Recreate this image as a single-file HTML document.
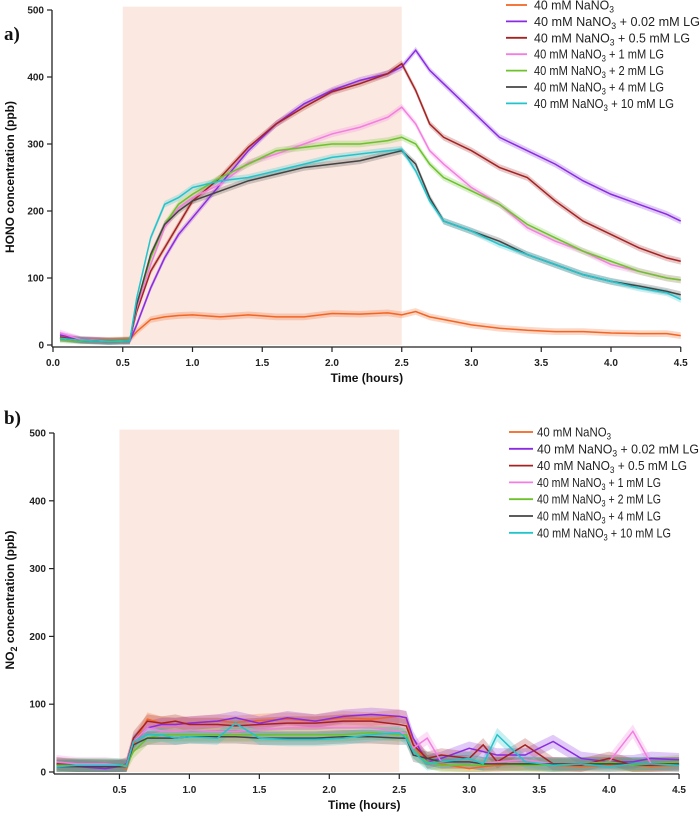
<!DOCTYPE html>
<html><head><meta charset="utf-8">
<style>
html,body{margin:0;padding:0;background:#fff;}
svg{display:block;font-family:"Liberation Sans",Arial,sans-serif;}
.tk{font-size:10px;font-weight:bold;fill:#222;}
.ttl{font-size:12px;font-weight:bold;fill:#111;}
.lg{font-size:13px;fill:#222;}
</style></head>
<body>
<svg id="chart" width="700" height="816" viewBox="0 0 700 816"></svg>
<script>
const colors=["#f26522","#8a2be2","#a52222","#f37ee0","#6cc22a","#444444","#22c4cc"];
const labelsSuffix=[""," + 0.02 mM LG"," + 0.5 mM LG"," + 1 mM LG"," + 2 mM LG"," + 4 mM LG"," + 10 mM LG"];
const seriesNames=["nano3","lg-0-02","lg-0-5","lg-1","lg-2","lg-4","lg-10"];
const xTicksA=["0.0","0.5","1.0","1.5","2.0","2.5","3.0","3.5","4.0","4.5"];
const xTicksB=["0.5","1.0","1.5","2.0","2.5","3.0","3.5","4.0","4.5"];
const yTicks=[0,100,200,300,400,500];
const timesA=[0.05,0.2,0.4,0.55,0.6,0.7,0.8,0.9,1.0,1.2,1.4,1.6,1.8,2.0,2.2,2.4,2.5,2.6,2.7,2.8,3.0,3.2,3.4,3.6,3.8,4.0,4.2,4.4,4.5];
const hA0=[10,8,7,8,20,38,42,44,45,42,45,42,42,47,46,48,45,50,42,38,30,25,22,20,20,18,17,17,14];
const hA1=[15,8,6,6,30,85,130,165,190,240,290,330,360,380,395,405,415,440,410,390,350,310,290,270,245,225,210,195,185];
const hA2=[12,7,6,7,50,110,145,180,215,250,295,330,355,378,390,405,420,380,330,310,290,265,250,215,185,165,145,130,125];
const hA3=[18,8,6,6,55,120,175,205,220,240,272,285,300,315,325,340,355,330,290,270,235,210,175,155,140,120,110,100,97];
const hA4=[8,6,6,7,60,130,180,210,225,250,270,290,295,300,300,305,310,300,270,250,230,210,180,160,140,125,110,100,97];
const hA5=[10,7,5,6,60,135,180,200,215,230,245,255,265,270,275,285,290,270,220,185,170,155,135,120,105,95,88,80,75];
const hA6=[10,7,5,6,70,160,210,220,235,245,250,260,270,280,285,290,292,260,215,185,170,150,135,120,105,95,85,78,68];
const timesB=[0.05,0.2,0.4,0.5,0.55,0.6,0.7,0.8,0.9,1.0,1.2,1.33,1.5,1.7,1.9,2.1,2.3,2.5,2.55,2.6,2.7,2.8,3.0,3.1,3.2,3.4,3.6,3.8,4.0,4.17,4.3,4.5];
const nB0=[10,10,10,8,5,40,78,72,70,72,75,73,76,78,75,80,78,82,80,40,15,12,5,8,10,12,10,8,10,10,8,10];
const nB1=[12,8,5,8,12,45,65,70,70,72,75,80,72,80,75,82,85,82,80,50,15,20,35,30,25,25,45,20,15,15,20,18];
const nB2=[12,10,8,8,10,50,75,72,75,70,70,68,70,72,72,75,75,70,68,40,20,25,20,40,15,40,12,10,20,10,10,12];
const nB3=[15,12,12,10,10,45,65,60,60,62,60,60,62,65,65,65,65,60,55,35,50,15,15,12,15,18,12,12,15,60,12,12];
const nB4=[10,10,10,10,10,30,50,55,55,55,55,55,55,55,55,55,58,55,55,30,15,10,10,10,12,10,10,12,15,10,12,15];
const nB5=[8,8,8,8,8,40,50,50,50,52,52,52,50,50,50,52,52,50,50,25,20,15,15,12,12,12,12,12,12,12,12,12];
const nB6=[8,10,10,10,8,45,55,55,50,52,50,72,50,48,48,50,55,58,50,30,12,15,20,12,55,15,10,12,8,12,12,10];
const seriesA=[hA0,hA1,hA2,hA3,hA4,hA5,hA6];
const seriesB=[nB0,nB1,nB2,nB3,nB4,nB5,nB6];

const NS="http://www.w3.org/2000/svg";
const svg=document.getElementById("chart");
function mk(tag,attrs,parent,name,inter){const e=document.createElementNS(NS,tag);for(const k in attrs)e.setAttribute(k,attrs[k]);


(parent||svg).appendChild(e);return e;}

function panel(p){
  const g=mk("g",{},svg,p.name,false);
  const X=t=>p.x0+t*p.xs, Y=v=>p.y0-v*p.ys;
  mk("rect",{x:X(0.5),y:Y(505),width:X(2.5)-X(0.5),height:Y(0)-Y(505),fill:"#fbe9e1"},g,"light-on-period",false);
  // bands & lines
  p.series.forEach((s,i)=>{
    let up=p.times.map((t,j)=>X(t)+","+Y(s[j]+p.band)).join(" ");
    let dn=p.times.map((t,j)=>X(t)+","+Y(Math.max(0,s[j]-p.band))).reverse().join(" ");
    mk("polygon",{points:up+" "+dn,fill:colors[i],opacity:0.25},g,"band-"+seriesNames[i],false);
  });
  p.series.forEach((s,i)=>{
    mk("polyline",{points:p.times.map((t,j)=>X(t)+","+Y(s[j])).join(" "),fill:"none",stroke:colors[i],"stroke-width":1.5},g,"line-"+seriesNames[i],true);
  });
  mk("line",{x1:p.ax,y1:Y(500),x2:p.ax,y2:p.y0+2,stroke:"#222","stroke-width":1.3},g,"y-axis",false);
  mk("line",{x1:p.ax,y1:p.y0+2,x2:X(4.5),y2:p.y0+2,stroke:"#222","stroke-width":1.3},g,"x-axis",false);
  yTicks.forEach(v=>{
    mk("line",{x1:p.ax-5,y1:Y(v),x2:p.ax,y2:Y(v),stroke:"#222","stroke-width":1.2},g,"y-tick",false);
    const t=mk("text",{x:p.ax-8,y:Y(v)+3.5,"text-anchor":"end",class:"tk"},g,"y-tick-label",false);t.textContent=v;
  });
  p.xt.forEach(l=>{const v=parseFloat(l);
    mk("line",{x1:X(v),y1:p.y0+2,x2:X(v),y2:p.y0+7,stroke:"#222","stroke-width":1.2},g,"x-tick",false);
    const t=mk("text",{x:X(v),y:p.y0+21,"text-anchor":"middle",class:"tk"},g,"x-tick-label",false);t.textContent=l;
  });
  const xt=mk("text",{x:X(2.25),y:p.y0+37,"text-anchor":"middle",class:"ttl"},g,"x-axis-title",false);xt.textContent="Time (hours)";
  const yt=mk("text",{x:0,y:0,"text-anchor":"middle",class:"ttl",transform:`translate(14,${p.ylc}) rotate(-90)`},g,"y-axis-title",false);
  yt.innerHTML=p.ylab;
  const pl=mk("text",{x:4,y:p.ply,style:"font-family:'Liberation Serif',serif;font-weight:bold;font-size:19px",fill:"#111"},g,"panel-label",false);pl.textContent=p.pl;
  // legend
  colors.forEach((c,i)=>{
    const y=p.lgy+i*p.lgd;
    mk("line",{x1:p.lgx1,y1:y,x2:p.lgx2,y2:y,stroke:c,"stroke-width":1.8},g,"legend-swatch-"+seriesNames[i],false);
    const t=mk("text",{x:p.lgt,y:y+4.5,class:"lg",textLength:p.tl[i],lengthAdjust:"spacingAndGlyphs"},g,"legend-entry-"+seriesNames[i],true);
    t.innerHTML='40 mM NaNO<tspan dy="3" font-size="9">3</tspan><tspan dy="-3">'+labelsSuffix[i]+'</tspan>';
  });
}
const tlA=[80,166,156,130,130,130,140], tlB=[74,162,150,124,124,124,134];
panel({name:"panel-a-hono",series:seriesA,times:timesA,x0:53,xs:139.5,y0:345,ys:0.67,ax:52,band:5,xt:xTicksA,
  ylab:"HONO concentration (ppb)",ylc:177,pl:"a)",ply:40,lgx1:506,lgx2:527,lgt:534,lgy:5,lgd:16.4,tl:tlA});
panel({name:"panel-b-no2",series:seriesB,times:timesB,x0:49.5,xs:139.9,y0:772,ys:0.678,ax:54,band:10,xt:xTicksB,
  ylab:'NO<tspan dy="3" font-size="9">2</tspan><tspan dy="-3"> concentration (ppb)</tspan>',ylc:600,pl:"b)",ply:424,lgx1:509,lgx2:533,lgt:537,lgy:432,lgd:16.8,tl:tlB});
</script>
</body></html>
